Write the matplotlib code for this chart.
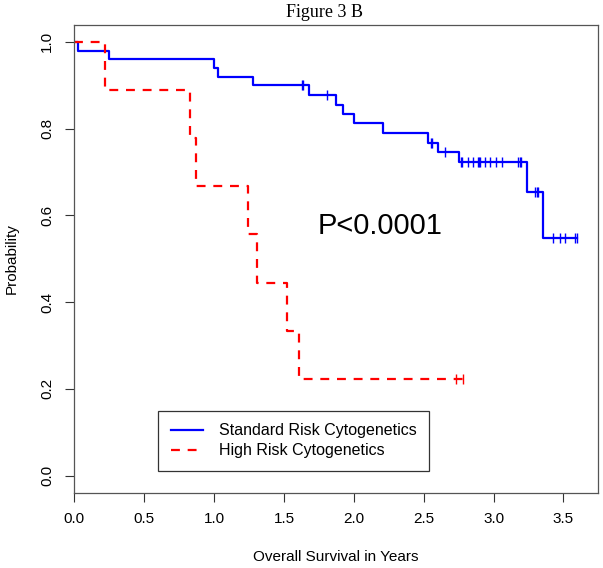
import numpy as np
import matplotlib
matplotlib.use("Agg")
import matplotlib.pyplot as plt

plt.rcParams["font.family"] = ["Liberation Sans", "DejaVu Sans"]

# Kaplan-Meier steps
std_times = [0, 0.03, 0.249, 1.0, 1.026, 1.28, 1.677, 1.872, 1.926, 2.0,
             2.212, 2.534, 2.604, 2.749, 3.236, 3.355]
std_surv = [1.0, 0.98, 0.96, 0.94, 0.92, 0.90, 0.878, 0.855, 0.834, 0.812,
            0.789, 0.767, 0.745, 0.722, 0.655, 0.548]
std_end = 3.6
std_censor = [1.626, 1.638, 1.81, 2.55, 2.56, 2.655, 2.766, 2.775, 2.818,
              2.85, 2.886, 2.895, 2.902, 2.94, 2.974, 3.017, 3.06, 3.176,
              3.186, 3.193, 3.295, 3.308, 3.319, 3.426, 3.474, 3.51, 3.582,
              3.594]

high_times = [0, 0.217, 0.828, 0.87, 1.243, 1.309, 1.519, 1.607]
high_surv = [1.0, 0.889, 0.778, 0.667, 0.556, 0.444, 0.333, 0.222]
high_end = 2.80
high_censor = [2.73, 2.78]

labels = ["Standard Risk Cytogenetics", "High Risk Cytogenetics"]
xticks = np.arange(0, 3.51, 0.5)
yticks = np.arange(0, 1.01, 0.2)

W, H = 603, 568
fig = plt.figure(figsize=(W / 100, H / 100), dpi=100)
ax = fig.add_axes([74.3 / W, 1 - 493 / H, (597.6 - 74.3) / W, (493 - 24.5) / H])


def km(ax, times, surv, end, censor, color, ls, label):
    t = np.append(times, end)
    s = np.append(surv, surv[-1])
    ax.step(t, s, where="post", color=color, ls=ls, lw=1.6, label=label,
            dashes=(4, 3.5) if ls == "--" else (None, None))
    idx = np.searchsorted(times, censor, side="right") - 1
    ax.plot(censor, np.asarray(surv)[idx], ls="none", marker="|",
            ms=7, mew=1.0, color=color)


km(ax, std_times, std_surv, std_end, std_censor, "#0000ff", "-", labels[0])
km(ax, high_times, high_surv, high_end, high_censor, "#ff0000", "--", labels[1])

ax.set_xlim(0, 3.6 * 1.04)
ax.set_ylim(-0.04, 1.04)
ax.set_xticks(xticks)
ax.set_xticklabels([f"{v:.1f}" for v in xticks])
ax.set_yticks(yticks)
ax.set_yticklabels([f"{v:.1f}" for v in yticks], rotation=90, va="center")
ax.tick_params(direction="out", length=6.7, width=0.8, labelsize=11,
               color="#333333")
ax.tick_params(axis="x", pad=7)
ax.tick_params(axis="y", pad=8)
for sp in ax.spines.values():
    sp.set_color("#555555")
    sp.set_linewidth(0.9)

ax.text(2.187, 0.575, "P<0.0001", fontsize=21, ha="center", va="center")

leg = ax.legend(loc="upper left", bbox_to_anchor=(158 / W, 1 - 410.7 / H),
                bbox_transform=fig.transFigure, borderaxespad=0,
                fontsize=11.5, frameon=True, fancybox=False, handlelength=2.0,
                handletextpad=1.0, borderpad=0.8, labelspacing=0.3)
leg.get_frame().set_edgecolor("black")
leg.get_frame().set_linewidth(0.9)

fig.text(325 / W, 1 - 17 / H, "Figure 3 B", family="Liberation Serif",
         fontsize=13, ha="center", va="baseline")
fig.text(336 / W, 1 - 556.7 / H, "Overall Survival in Years", fontsize=11,
         ha="center", va="center")
fig.text(12 / W, 1 - 258.7 / H, "Probability", fontsize=11, rotation=90,
         ha="center", va="center")

fig.savefig("out.png", dpi=100)
